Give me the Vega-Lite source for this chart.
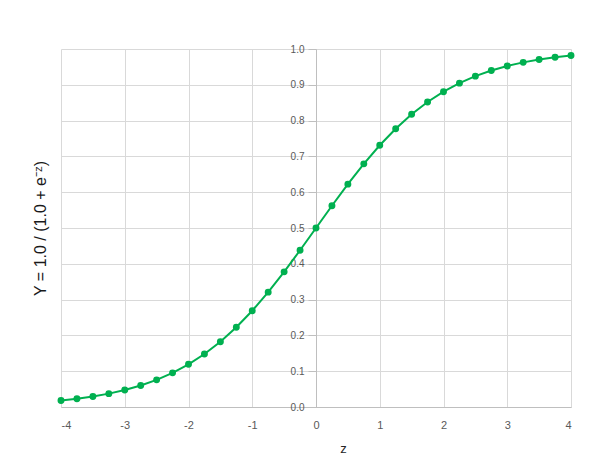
{
  "$schema": "https://vega.github.io/schema/vega-lite/v6.json",
  "width": 510,
  "height": 358,
  "autosize": "none",
  "padding": {"left": 61, "top": 49, "right": 31, "bottom": 68},
  "background": "white",
  "config": {"view": {"stroke": null}, "font": "Liberation Sans"},
  "data": {"values": [
    {"z": -4, "y": 0.01799}, {"z": -3.75, "y": 0.02298}, {"z": -3.5, "y": 0.02931}, {"z": -3.25, "y": 0.03733},
    {"z": -3, "y": 0.04743}, {"z": -2.75, "y": 0.06009}, {"z": -2.5, "y": 0.07586}, {"z": -2.25, "y": 0.09535},
    {"z": -2, "y": 0.1192}, {"z": -1.75, "y": 0.14805}, {"z": -1.5, "y": 0.18243}, {"z": -1.25, "y": 0.2227},
    {"z": -1, "y": 0.26894}, {"z": -0.75, "y": 0.32082}, {"z": -0.5, "y": 0.37754}, {"z": -0.25, "y": 0.43782},
    {"z": 0, "y": 0.5},
    {"z": 0.25, "y": 0.56218}, {"z": 0.5, "y": 0.62246}, {"z": 0.75, "y": 0.67918}, {"z": 1, "y": 0.73106},
    {"z": 1.25, "y": 0.7773}, {"z": 1.5, "y": 0.81757}, {"z": 1.75, "y": 0.85195}, {"z": 2, "y": 0.8808},
    {"z": 2.25, "y": 0.90465}, {"z": 2.5, "y": 0.92414}, {"z": 2.75, "y": 0.93991}, {"z": 3, "y": 0.95257},
    {"z": 3.25, "y": 0.96267}, {"z": 3.5, "y": 0.97069}, {"z": 3.75, "y": 0.97702}, {"z": 4, "y": 0.98201}
  ]},
  "encoding": {
    "x": {
      "field": "z", "type": "quantitative",
      "scale": {"domain": [-4, 4], "nice": false, "zero": false},
      "axis": {
        "title": "z", "titleFontSize": 13, "titleFontWeight": "normal", "titleColor": "#262626", "titlePadding": 12,
        "titleX": 282,
        "values": [-4, -3, -2, -1, 0, 1, 2, 3, 4], "labelExpr": "'' + datum.value",
        "labelFontSize": 11, "labelColor": "#595959", "labelPadding": 12,
        "ticks": false, "domainColor": "#bfbfbf", "gridColor": "#d9d9d9"
      }
    },
    "y": {
      "field": "y", "type": "quantitative",
      "scale": {"domain": [0, 1], "nice": false},
      "axis": {
        "title": "Y = 1.0 / (1.0 + e⁻ᶻ)", "titleFontSize": 16, "titleFontWeight": "normal", "titleColor": "#1a1a1a",
        "titleX": -268,
        "values": [0, 0.1, 0.2, 0.3, 0.4, 0.5, 0.6, 0.7, 0.8, 0.9, 1.0], "format": ".1f",
        "labelFontSize": 10, "labelColor": "#595959", "labelPadding": 4,
        "offset": -255, "tickSize": 8, "tickColor": "#bfbfbf",
        "domainColor": "#bfbfbf", "gridColor": "#d9d9d9"
      }
    }
  },
  "layer": [
    {"mark": {"type": "line", "color": "#00b050", "strokeWidth": 2}},
    {"mark": {"type": "circle", "color": "#00b050", "opacity": 1, "size": 48}}
  ]
}
